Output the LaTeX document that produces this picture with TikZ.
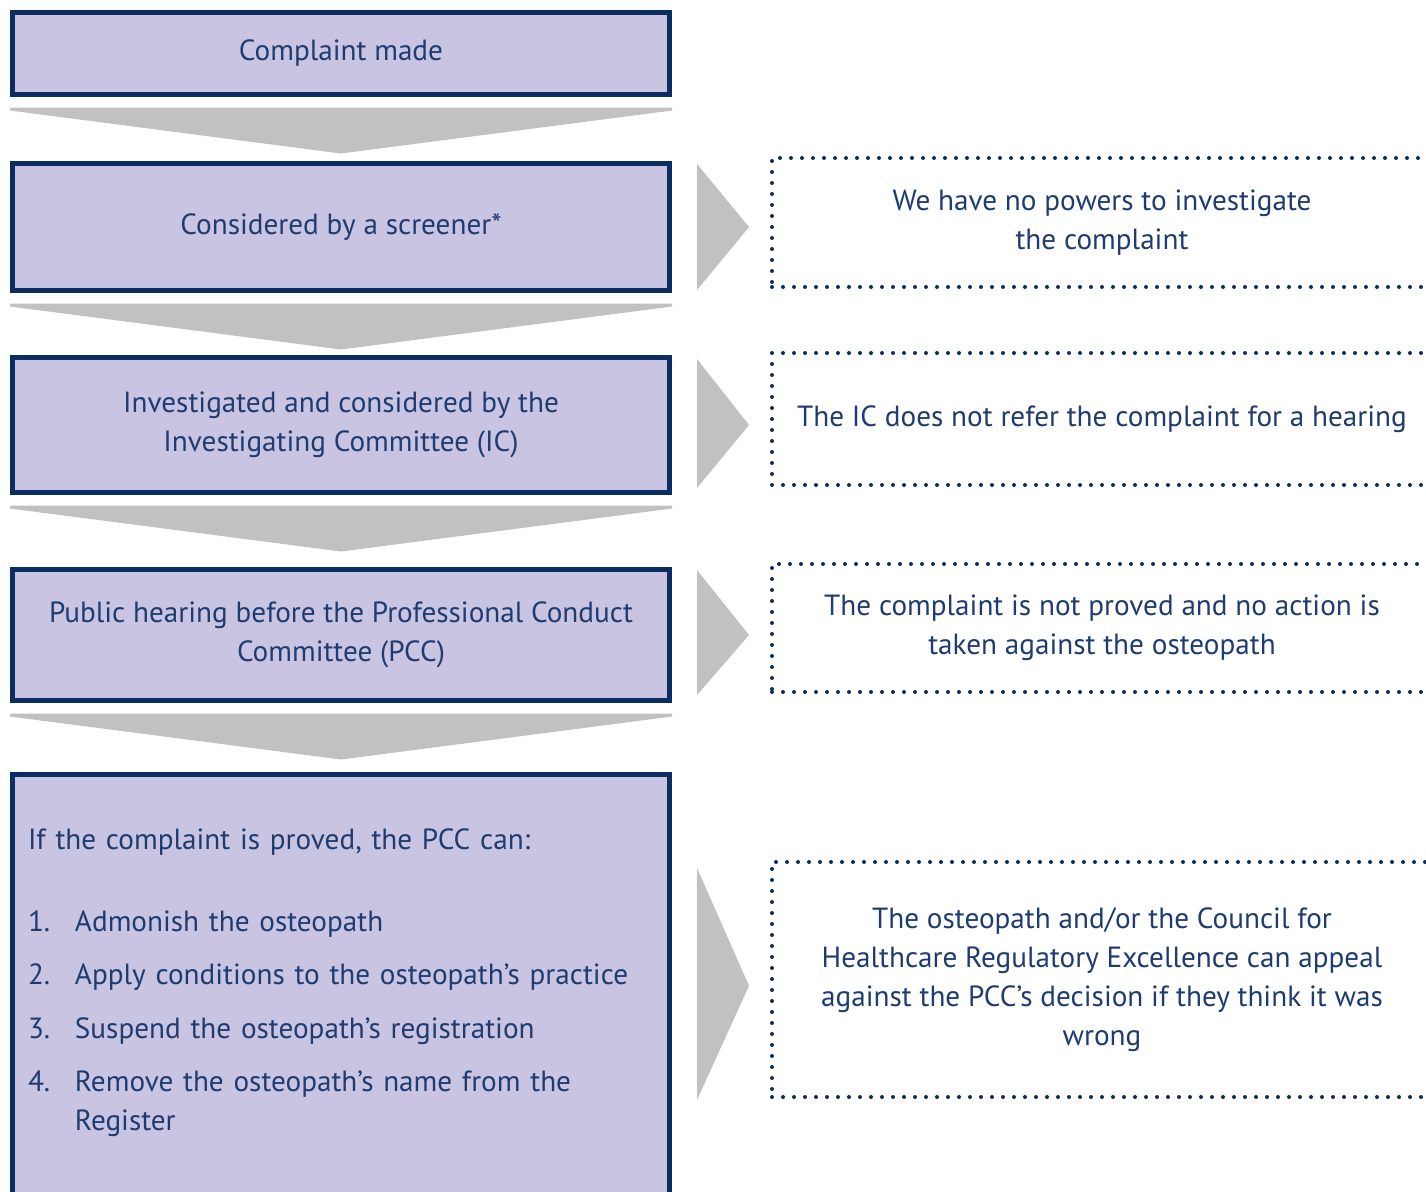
\documentclass[tikz,border=0pt]{standalone}
\usepackage{fontspec}
\setmainfont{PT Sans}
\usetikzlibrary{calc}
\definecolor{navy}{HTML}{0B2D62}
\definecolor{lilac}{HTML}{C8C4E1}
\definecolor{chevgrey}{HTML}{C1C1C1}
\definecolor{inkblue}{HTML}{1F3C70}

\tikzset{
  stage/.style={draw=navy, line width=2.5pt, fill=lilac, text=inkblue,
    minimum width=328.5pt, inner sep=0pt, outer sep=0pt, align=center,
    font=\fontsize{14.6}{19.5}\selectfont},
  outcome/.style={draw=navy, line width=2pt, dash pattern=on 0pt off 5.5pt,
    line cap=round, minimum width=330pt, inner sep=0pt, outer sep=0pt,
    text=inkblue, align=center, font=\fontsize{14.6}{19.5}\selectfont},
  chev/.style={fill=chevgrey}
}

\begin{document}
\begin{tikzpicture}[x=0.5pt, y=-0.5pt]
\useasboundingbox (0,0) rectangle (1426,1191);
\clip (0,0) rectangle (1426,1191);
\fill[white] (0,0) rectangle (1426,1191);

% the steps
\node[stage, minimum height=41pt] (b1) at (341,53.5) {Complaint made};
\node[stage, minimum height=63.5pt] (b2) at (341,227) {Considered by a screener*};
\node[stage, minimum height=67.5pt] (b3) at (341,425) {Investigated and considered by the\\Investigating Committee (IC)};
\node[stage, minimum height=65.5pt] (b4) at (341,635) {Public hearing before the Professional Conduct\\Committee (PCC)};
\node[stage, minimum height=211.25pt, text width=313pt, align=left] (b5) at (341,985.75) {%
  If the complaint is proved, the PCC can:\\[23pt]
  \begin{tabular}{@{}p{23.5pt}@{}l@{}}
  1. & Admonish the osteopath\\[7.25pt]
  2. & Apply conditions to the osteopath's practice\\[7.25pt]
  3. & Suspend the osteopath's registration\\[7.25pt]
  4. & Remove the osteopath's name from the\\
     & Register
  \end{tabular}};

% the outcomes
\node[outcome, minimum height=64.5pt] (d1) at (1102,222.5) {We have no powers to investigate\\the complaint};
\node[outcome, minimum height=66pt] (d2) at (1102,419) {The IC does not refer the complaint for a hearing};
\node[outcome, minimum height=64pt] (d3) at (1102,628) {The complaint is not proved and no action is\\taken against the osteopath};
\node[outcome, minimum height=117.5pt] (d4) at (1102,979.5) {The osteopath and/or the Council for\\Healthcare Regulatory Excellence can appeal\\against the PCC's decision if they think it was\\wrong};

% down chevrons
\foreach \a/\b in {b1/b2, b2/b3, b3/b4, b4/b5}
  \fill[chev] ($(\a.south west)+(-2.5,13)$) -- ($(\a.south east)+(2.5,13)$) -- ($(\a.south east)+(2.5,16)$) -- ($(\a.south)+(0,59)$) -- ($(\a.south west)+(-2.5,16)$) -- cycle;

% side chevrons
\foreach \a/\b in {b2/d1, b3/d2, b4/d3, b5/d4}
  \fill[chev] ($(\a.east |- \b.north)+(27.5,6)$) -- ($(\a.east)+(79.5,0)$) -- ($(\a.east |- \b.south)+(27.5,3)$) -- cycle;
\end{tikzpicture}
\end{document}
